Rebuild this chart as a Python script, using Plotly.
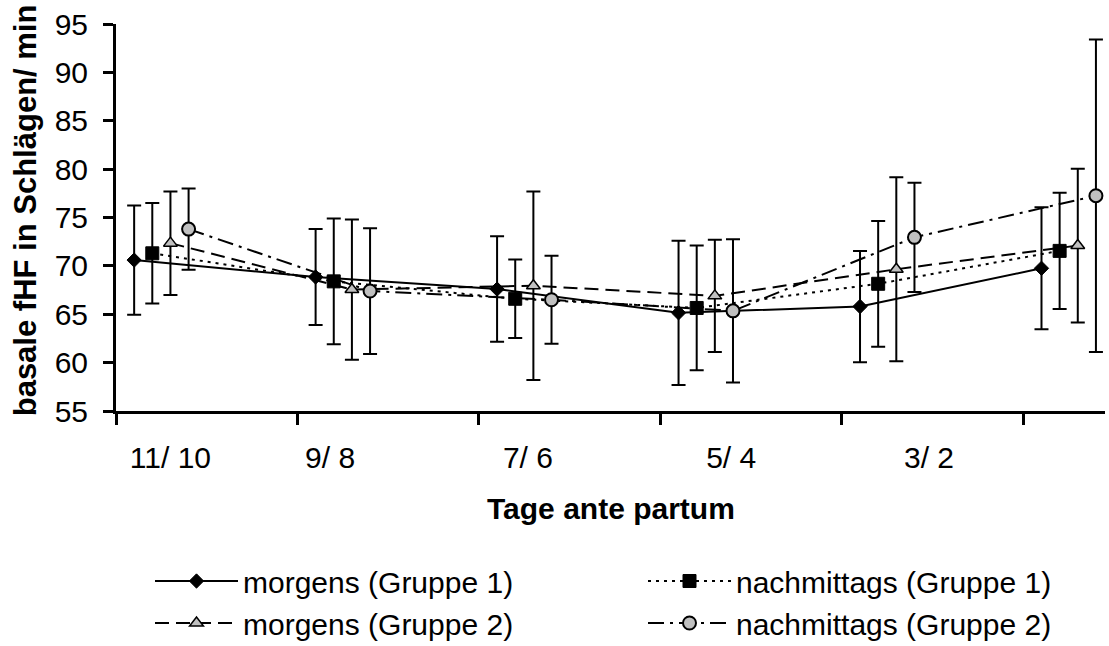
import plotly.graph_objects as go

# ---- data ----
tick_labels = ["11/ 10", "9/ 8", "7/ 6", "5/ 4", "3/ 2"]
label_pos = [0.30, 1.18, 2.27, 3.39, 4.48]
group_index = [0, 1, 2, 3, 4, 5]
series_offsets = [0.1, 0.2, 0.3, 0.4]

series_names = ["morgens (Gruppe 1)", "nachmittags (Gruppe 1)",
                "morgens (Gruppe 2)", "nachmittags (Gruppe 2)"]

morgens_g1 = [70.6, 68.85, 67.6, 65.15, 65.8, 69.75]
morgens_g1_sd = [5.65, 4.95, 5.45, 7.45, 5.75, 6.3]
nachm_g1 = [71.3, 68.4, 66.6, 65.65, 68.15, 71.55]
nachm_g1_sd = [5.2, 6.5, 4.05, 6.45, 6.5, 6.0]
morgens_g2 = [72.35, 67.55, 67.95, 66.9, 69.65, 72.1]
morgens_g2_sd = [5.35, 7.25, 9.75, 5.8, 9.5, 7.95]
nachm_g2 = [73.8, 67.4, 66.5, 65.35, 72.95, 77.25]
nachm_g2_sd = [4.2, 6.5, 4.55, 7.4, 5.65, 16.15]

values = [morgens_g1, nachm_g1, morgens_g2, nachm_g2]
sds = [morgens_g1_sd, nachm_g1_sd, morgens_g2_sd, nachm_g2_sd]

FONT = "Liberation Sans, Arial, sans-serif"
GRAY = "#c0c0c0"

styles = [
    dict(line=dict(color="black", width=2, dash="solid"),
         marker=dict(symbol="diamond", size=11, color="black",
                     line=dict(color="black", width=1))),
    dict(line=dict(color="black", width=2, dash="3px,5px"),
         marker=dict(symbol="square", size=13, color="black",
                     line=dict(color="black", width=1))),
    dict(line=dict(color="black", width=2, dash="14px,7px"),
         marker=dict(symbol="triangle-up", size=12, color=GRAY,
                     line=dict(color="black", width=1.5))),
    dict(line=dict(color="black", width=2, dash="16px,6px,3px,6px"),
         marker=dict(symbol="circle", size=13, color=GRAY,
                     line=dict(color="black", width=2))),
]

fig = go.Figure()
for i, (name, vals, sd, st) in enumerate(zip(series_names, values, sds, styles)):
    xs = [g + series_offsets[i] for g in group_index]
    fig.add_trace(go.Scatter(
        x=xs, y=vals, name=name, mode="lines+markers",
        line=st["line"], marker=st["marker"],
        error_y=dict(type="data", array=sd, visible=True,
                     color="black", thickness=2, width=7),
    ))

fig.update_layout(
    width=1109, height=646,
    margin=dict(l=116, r=4, t=24, b=235),
    paper_bgcolor="white", plot_bgcolor="white",
    font=dict(family=FONT, color="black", size=30),
    showlegend=True,
    legend=dict(
        orientation="h",
        xref="container", yref="container",
        x=150 / 1109, y=1 - 555 / 646,
        xanchor="left", yanchor="top",
        itemwidth=83, entrywidth=395,
        font=dict(family=FONT, size=30, color="black"),
        bgcolor="rgba(0,0,0,0)",
        traceorder="normal",
    ),
    annotations=[
        dict(text="<b>Tage ante partum</b>", xref="paper", yref="paper",
             x=0.5, y=-(508 - 410.7) / 387, xanchor="center", yanchor="middle",
             showarrow=False, font=dict(family=FONT, size=30, color="black")),
        dict(text="<b>basale fHF in Schlägen/ min</b>", xref="paper", yref="paper",
             x=(25 - 116) / 989, y=(410.7 - 210) / 387, xanchor="center", yanchor="middle",
             textangle=-90, showarrow=False,
             font=dict(family=FONT, size=31, color="black")),
    ],
)

fig.update_xaxes(
    range=[0, 5.45], showgrid=False, zeroline=False,
    showline=True, linecolor="black", linewidth=3,
    tickmode="array", tickvals=label_pos, ticktext=tick_labels,
    ticks="", ticklabelstandoff=18,
    tickfont=dict(family=FONT, size=30, color="black"),
    minor=dict(ticks="outside", tick0=0, dtick=1, ticklen=11,
               tickwidth=3, tickcolor="black", showgrid=False),
)
fig.update_yaxes(
    range=[55, 95], dtick=5, tick0=55, showgrid=False, zeroline=False,
    showline=True, linecolor="black", linewidth=3,
    ticks="outside", ticklen=10, tickwidth=3, tickcolor="black",
    ticklabelstandoff=9,
    tickfont=dict(family=FONT, size=30, color="black"),
)

fig.write_html("out.html")
